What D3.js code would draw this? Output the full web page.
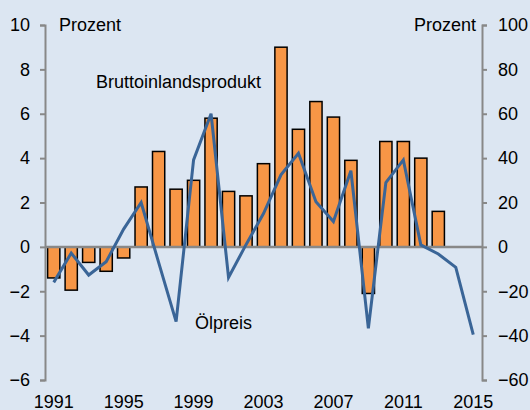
<!DOCTYPE html>
<html>
<head>
<meta charset="utf-8">
<script src="https://cdn.jsdelivr.net/npm/d3@7"></script>
<style>
  html, body { margin: 0; padding: 0; background: #DCE6F2; }
  svg { display: block; }
  text { font-family: "Liberation Sans", Arial, sans-serif; }
</style>
</head>
<body>
<svg id="chart" width="530" height="410"></svg>
<script>
const years = d3.range(1991, 2016);
const gdpYears = d3.range(1991, 2014);
const gdpValues = [-1.4, -1.95, -0.7, -1.1, -0.5, 2.7, 4.3, 2.6, 3.0, 5.8, 2.5, 2.3, 3.75, 9.0, 5.3, 6.55, 5.85, 3.9, -2.1, 4.75, 4.75, 4.0, 1.6];
const oilValues = [-16, -2.8, -12.7, -6.7, 8, 20, -7, -33.7, 39.2, 60, -13.8, 1, 15, 32.5, 42.2, 20.3, 11.4, 34.3, -36.7, 29, 39.2, 0.9, -3.2, -9.2, -39.5];
const xTickLabels = [1991, 1995, 1999, 2003, 2007, 2011, 2015];
const leftTicks = [-6, -4, -2, 0, 2, 4, 6, 8, 10];
const rightTicks = [-60, -40, -20, 0, 20, 40, 60, 80, 100];

const svg = d3.select("#chart");
const mLeft = 45, mRight = 482, mTop = 25, mBottom = 380;

const x = d3.scaleBand().domain(years).range([mLeft, mRight]).paddingInner(0.3).paddingOuter(0.15);
const yL = d3.scaleLinear().domain([-6, 10]).range([mBottom, mTop]);
const yR = d3.scaleLinear().domain([-60, 100]).range([mBottom, mTop]);
const cx = d => x(d) + x.bandwidth() / 2;

svg.append("rect").attr("width", 530).attr("height", 410).attr("fill", "#DCE6F2");

// bars
svg.append("g").selectAll("rect").data(gdpYears).join("rect")
  .attr("x", d => x(d))
  .attr("width", x.bandwidth())
  .attr("y", (d, i) => yL(Math.max(0, gdpValues[i])))
  .attr("height", (d, i) => Math.abs(yL(gdpValues[i]) - yL(0)))
  .attr("fill", "#F79646")
  .attr("stroke", "#000")
  .attr("stroke-width", 1.5);

// zero line
svg.append("line").attr("x1", mLeft).attr("x2", mRight)
  .attr("y1", yL(0)).attr("y2", yL(0))
  .attr("stroke", "#888888").attr("stroke-width", 2.5);

// axes
const axL = d3.axisLeft(yL).tickValues(leftTicks).tickSize(5).tickPadding(10).tickFormat(d3.format("d"));
const axR = d3.axisRight(yR).tickValues(rightTicks).tickSize(5).tickPadding(11).tickFormat(d3.format("d"));
function style(g) {
  g.select(".domain").attr("stroke", "#888888").attr("stroke-width", 2);
  g.selectAll(".tick line").attr("stroke", "#888888").attr("stroke-width", 2);
  g.selectAll(".tick text").attr("font-size", 18).attr("fill", "#000")
    .attr("font-family", "'Liberation Sans', Arial, sans-serif");
}
svg.append("g").attr("transform", `translate(${mLeft},0)`).call(axL).call(style);
svg.append("g").attr("transform", `translate(${mRight},0)`).call(axR).call(style);

// x labels
svg.append("g").selectAll("text").data(xTickLabels).join("text")
  .attr("x", d => cx(d)).attr("y", 408)
  .attr("text-anchor", "middle").attr("font-size", 18).attr("fill", "#000")
  .text(d => d);

// oil line
svg.append("path").datum(years)
  .attr("fill", "none").attr("stroke", "#3A6597").attr("stroke-width", 3)
  .attr("stroke-linejoin", "miter")
  .attr("d", d3.line().x(d => cx(d)).y((d, i) => yR(oilValues[i])));

// labels
svg.append("text").attr("x", 59).attr("y", 30.5).attr("font-size", 18).text("Prozent");
svg.append("text").attr("x", 476).attr("y", 30.5).attr("text-anchor", "end").attr("font-size", 18).text("Prozent");
svg.append("text").attr("x", 96).attr("y", 88).attr("font-size", 18).text("Bruttoinlandsprodukt");
svg.append("text").attr("x", 195).attr("y", 329).attr("font-size", 18).text("Ölpreis");
</script>
</body>
</html>
